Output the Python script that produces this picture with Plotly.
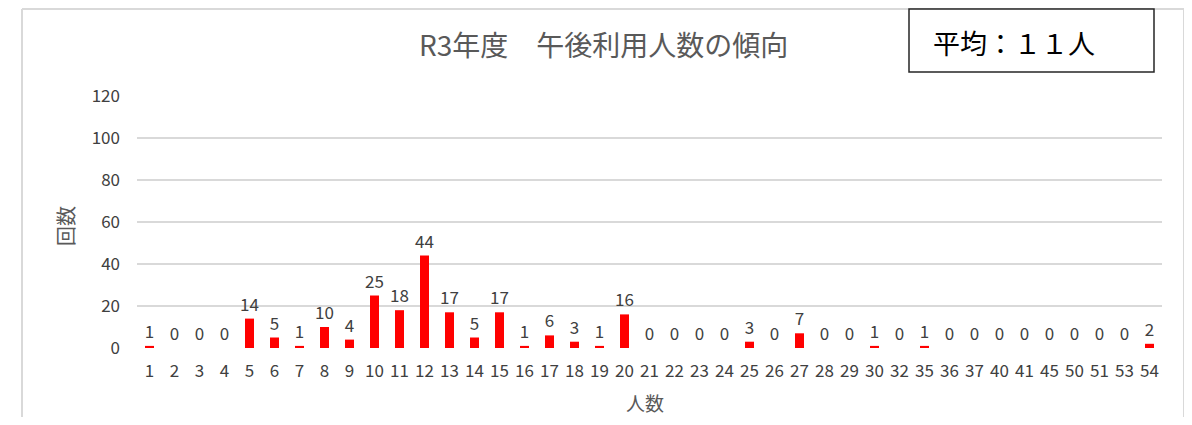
import plotly.graph_objects as go

# 人数 categories (x axis) and counts
ninzu = ['1', '2', '3', '4', '5', '6', '7', '8', '9', '10', '11', '12', '13', '14',
         '15', '16', '17', '18', '19', '20', '21', '22', '23', '24', '25', '26', '27',
         '28', '29', '30', '32', '35', '36', '37', '40', '41', '45', '50', '51', '53', '54']
kaisu = [1, 0, 0, 0, 14, 5, 1, 10, 4, 25, 18, 44, 17, 5, 17, 1, 6, 3, 1, 16, 0, 0, 0, 0,
         3, 0, 7, 0, 0, 1, 0, 1, 0, 0, 0, 0, 0, 0, 0, 0, 2]
y_ticks = [0, 20, 40, 60, 80, 100, 120]

title_text = 'R3年度　午後利用人数の傾向'
avg_text = '平均：１１人'

FONT = 'Noto Sans CJK JP, Noto Sans, sans-serif'

fig = go.Figure()
fig.add_trace(go.Bar(x=ninzu, y=kaisu,
                     marker=dict(color='#ff0000', line=dict(width=0)),
                     text=[str(v) for v in kaisu],
                     textposition='outside', cliponaxis=False, constraintext='none',
                     textfont=dict(size=17, color='#404040', family=FONT),
                     showlegend=False))

# the page has an 8px body margin, so the figure sits at (8, 8)
OFF = 8
W, H = 1176, 409
L, R, T, B = 129, 22, 88, 69
pw, ph = W - L - R, H - T - B

def px(x):
    # page pixel -> paper x
    return (x - OFF - L) / pw

def py(y):
    # page pixel -> paper y
    return (H - B - (y - OFF)) / ph

# outer chart frame (light gray)
frame = dict(type='line', xref='paper', yref='paper', line=dict(color='#d9d9d9', width=2))
fig.add_shape(frame, x0=px(22), x1=px(22), y0=py(9), y1=py(440))
fig.add_shape(frame, x0=px(22), x1=px(1184), y0=py(9), y1=py(9))
fig.add_shape(frame, x0=px(1184), x1=px(1184), y0=py(9), y1=py(440))

# average box
fig.add_shape(type='rect', xref='paper', yref='paper',
              x0=px(909), x1=px(1154), y0=py(72), y1=py(9),
              line=dict(color='#262626', width=1.5), fillcolor='white')
fig.add_annotation(xref='paper', yref='paper', x=px(1014), y=py(42), text=avg_text,
                   xanchor='center', yanchor='middle', showarrow=False,
                   font=dict(size=27, color='#000000', family=FONT))

# axis titles
fig.add_annotation(xref='paper', yref='paper', x=px(65), y=py(226), text='回数',
                   textangle=-90, xanchor='center', yanchor='middle', showarrow=False,
                   font=dict(size=20, color='#595959', family=FONT))
fig.add_annotation(xref='paper', yref='paper', x=px(645), y=py(402), text='人数',
                   xanchor='center', yanchor='middle', showarrow=False,
                   font=dict(size=19, color='#595959', family=FONT))

# chart title
fig.add_annotation(xref='paper', yref='paper', x=px(603), y=py(44), text=title_text,
                   xanchor='center', yanchor='middle', showarrow=False,
                   font=dict(size=28, color='#595959', family=FONT))

fig.update_layout(
    width=W, height=H,
    margin=dict(l=L, r=R, t=T, b=B, autoexpand=False),
    plot_bgcolor='white', paper_bgcolor='white',
    bargap=0.64,
    xaxis=dict(type='category', showgrid=False, zeroline=False, showline=False,
               ticks='', automargin=False, ticklabelstandoff=11,
               tickfont=dict(size=17, color='#404040', family=FONT)),
    yaxis=dict(range=[0, 120], tickvals=y_ticks, showgrid=True, gridcolor='#d9d9d9',
               gridwidth=1.5, zeroline=False, showline=False, ticks='',
               automargin=False, ticklabelstandoff=16,
               tickfont=dict(size=17, color='#404040', family=FONT)),
    font=dict(family=FONT),
)

fig.write_html("out.html")
